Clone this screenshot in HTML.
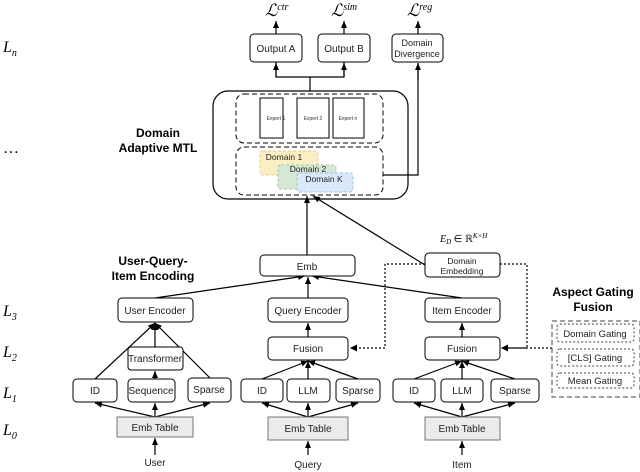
<!DOCTYPE html>
<html><head><meta charset="utf-8"><style>body{margin:0;background:#fff}svg{display:block}</style></head><body>
<svg width="640" height="472" viewBox="0 0 640 472" xmlns="http://www.w3.org/2000/svg" font-family="Liberation Sans, sans-serif">
<defs>
<marker id="a" markerWidth="8" markerHeight="8" refX="7" refY="4" orient="auto" markerUnits="userSpaceOnUse"><path d="M0,1 L7,4 L0,7 Z" fill="#000"/></marker>
</defs>
<g font-family="Liberation Serif, serif" font-style="italic" font-size="16">
<text x="3" y="52">L<tspan font-size="10" dy="4">n</tspan></text>
<text x="3" y="153" font-style="normal">…</text>
<text x="3" y="316">L<tspan font-size="10" dy="4">3</tspan></text>
<text x="3" y="357">L<tspan font-size="10" dy="4">2</tspan></text>
<text x="3" y="398">L<tspan font-size="10" dy="4">1</tspan></text>
<text x="3" y="435">L<tspan font-size="10" dy="4">0</tspan></text>
<text x="265" y="16" font-size="17">ℒ<tspan font-size="10" dy="-6">ctr</tspan></text>
<text x="331" y="16" font-size="17">ℒ<tspan font-size="10" dy="-6">sim</tspan></text>
<text x="407" y="16" font-size="17">ℒ<tspan font-size="10" dy="-6">reg</tspan></text>
<text x="440" y="242" font-size="10">E<tspan font-size="7" dy="2">D</tspan><tspan dy="-2" font-style="normal"> ∈ ℝ</tspan><tspan font-size="7" dy="-4">K×H</tspan></text>
</g>
<g font-weight="bold" font-size="12" text-anchor="middle">
<text x="158" y="137">Domain</text><text x="158" y="152">Adaptive MTL</text>
<text x="153" y="265">User-Query-</text><text x="153" y="280">Item Encoding</text>
<text x="593" y="296">Aspect Gating</text><text x="593" y="311">Fusion</text>
</g>
<g stroke="#000" fill="none" stroke-width="1.2">
<!-- top -->
<line x1="276" y1="34" x2="276" y2="21" marker-end="url(#a)"/>
<line x1="344" y1="34" x2="344" y2="21" marker-end="url(#a)"/>
<line x1="418" y1="34" x2="418" y2="21" marker-end="url(#a)"/>
<line x1="310" y1="91" x2="310" y2="77"/>
<polyline points="276,62 276,77 344,77 344,62"/>
<line x1="276" y1="77" x2="276" y2="63" marker-end="url(#a)"/>
<line x1="344" y1="77" x2="344" y2="63" marker-end="url(#a)"/>
<polyline points="383,175 418,175 418,63" />
<line x1="418" y1="80" x2="418" y2="63" marker-end="url(#a)"/>
<line x1="307" y1="255" x2="307" y2="196" marker-end="url(#a)"/>
<line x1="425" y1="265" x2="313" y2="196" marker-end="url(#a)"/>
<line x1="155" y1="298" x2="305" y2="276" marker-end="url(#a)"/>
<line x1="462" y1="298" x2="312" y2="276" marker-end="url(#a)"/>
<line x1="308" y1="298" x2="308" y2="277" marker-end="url(#a)"/>
<!-- user -->
<line x1="155" y1="347" x2="155" y2="323" marker-end="url(#a)"/>
<line x1="95" y1="379" x2="155" y2="323" marker-end="url(#a)"/>
<line x1="210" y1="378" x2="155" y2="323" marker-end="url(#a)"/>
<line x1="155" y1="379" x2="155" y2="371" marker-end="url(#a)"/>
<line x1="155" y1="417" x2="95" y2="403" marker-end="url(#a)"/>
<line x1="155" y1="417" x2="155" y2="403" marker-end="url(#a)"/>
<line x1="155" y1="417" x2="210" y2="403" marker-end="url(#a)"/>
<line x1="155" y1="455" x2="155" y2="438" marker-end="url(#a)"/>
<!-- query -->
<line x1="308" y1="337" x2="308" y2="323" marker-end="url(#a)"/>
<line x1="262" y1="379" x2="308" y2="361" marker-end="url(#a)"/>
<line x1="308" y1="379" x2="308" y2="361" marker-end="url(#a)"/>
<line x1="358" y1="379" x2="308" y2="361" marker-end="url(#a)"/>
<line x1="308" y1="417" x2="262" y2="403" marker-end="url(#a)"/>
<line x1="308" y1="417" x2="308" y2="403" marker-end="url(#a)"/>
<line x1="308" y1="417" x2="358" y2="403" marker-end="url(#a)"/>
<line x1="308" y1="455" x2="308" y2="441" marker-end="url(#a)"/>
<!-- item -->
<line x1="462" y1="337" x2="462" y2="323" marker-end="url(#a)"/>
<line x1="414" y1="379" x2="462" y2="361" marker-end="url(#a)"/>
<line x1="462" y1="379" x2="462" y2="361" marker-end="url(#a)"/>
<line x1="515" y1="379" x2="462" y2="361" marker-end="url(#a)"/>
<line x1="462" y1="417" x2="414" y2="403" marker-end="url(#a)"/>
<line x1="462" y1="417" x2="462" y2="403" marker-end="url(#a)"/>
<line x1="462" y1="417" x2="515" y2="403" marker-end="url(#a)"/>
<line x1="462" y1="455" x2="462" y2="441" marker-end="url(#a)"/>
</g>
<g stroke="#000" fill="none" stroke-width="1.2" stroke-dasharray="2,2">
<polyline points="425,264 385,264 385,348 350,348"/>
<polyline points="500,264 527,264 527,348 502,348"/>
<line x1="552" y1="348" x2="502" y2="348"/>
</g>
<path d="M350,348 l7,-3.5 v7z M501,348 l7,-3.5 v7z" fill="#000"/>
<!-- big box -->
<rect x="213" y="91" width="195" height="108" rx="15" fill="none" stroke="#000" stroke-width="1.2"/>
<rect x="236" y="94" width="147" height="49" rx="8" fill="none" stroke="#000" stroke-dasharray="5,3"/>
<rect x="236" y="147" width="147" height="48" rx="8" fill="none" stroke="#000" stroke-dasharray="5,3"/>
<g fill="#fff" stroke="#000"><rect x="260" y="98" width="23" height="40"/><rect x="297" y="98" width="32" height="40"/><rect x="333" y="98" width="31" height="40"/></g>
<g font-size="5" text-anchor="middle" fill="#333"><text x="276" y="120">Expert 1</text><text x="313" y="120">Expert 2</text><text x="348" y="120">Expert n</text></g>
<rect x="260" y="151" width="58" height="24" rx="3" fill="#fbeec4" stroke="#e0cf8f" stroke-dasharray="3,2"/>
<rect x="278" y="165" width="58" height="24" rx="3" fill="#d5e8d4" stroke="#aac6a8" stroke-dasharray="3,2"/>
<rect x="297" y="173" width="56" height="19" rx="3" fill="#dae8fc" stroke="#a9c0e0" stroke-dasharray="3,2"/>
<g font-size="8.5" text-anchor="middle" fill="#222"><text x="284" y="160">Domain 1</text><text x="308" y="172">Domain 2</text><text x="324" y="182">Domain K</text></g>
<!-- boxes -->
<g fill="#fff" stroke="#000" stroke-width="1">
<rect x="250" y="34" width="52" height="28" rx="4"/>
<rect x="318" y="34" width="52" height="28" rx="4"/>
<rect x="392" y="34" width="51" height="28" rx="4"/>
<rect x="260" y="255" width="95" height="21" rx="4"/>
<rect x="425" y="253" width="75" height="24" rx="4"/>
<rect x="118" y="298" width="75" height="24" rx="4"/>
<rect x="268" y="298" width="80" height="24" rx="4"/>
<rect x="425" y="298" width="75" height="24" rx="4"/>
<rect x="128" y="347" width="55" height="23" rx="3"/>
<rect x="268" y="337" width="80" height="23" rx="4"/>
<rect x="425" y="337" width="75" height="23" rx="4"/>
<rect x="73" y="379" width="44" height="23" rx="4"/>
<rect x="128" y="379" width="47" height="23" rx="4"/>
<rect x="188" y="378" width="43" height="24" rx="4"/>
<rect x="241" y="379" width="42" height="23" rx="4"/>
<rect x="287" y="379" width="43" height="23" rx="4"/>
<rect x="336" y="379" width="44" height="23" rx="4"/>
<rect x="393" y="379" width="42" height="23" rx="4"/>
<rect x="441" y="379" width="42" height="23" rx="4"/>
<rect x="491" y="379" width="48" height="23" rx="4"/>
</g>
<g fill="#ebebeb" stroke="#777"><rect x="117" y="417" width="76" height="20"/><rect x="268" y="417" width="80" height="23"/><rect x="425" y="417" width="75" height="23"/></g>
<rect x="552" y="321" width="88" height="76" fill="#fff" stroke="#444" stroke-dasharray="5,3"/>
<g fill="#fff" stroke="#444" stroke-dasharray="2,2"><rect x="557" y="324" width="77" height="18" rx="3"/><rect x="557" y="349" width="77" height="17" rx="3"/><rect x="557" y="373" width="77" height="15" rx="3"/></g>
<g font-size="10" text-anchor="middle" fill="#222">
<text x="276" y="52">Output A</text><text x="344" y="52">Output B</text>
<text x="417" y="46" font-size="9">Domain</text><text x="417" y="57" font-size="9">Divergence</text>
<text x="307" y="270">Emb</text>
<text x="462" y="264" font-size="8.5">Domain</text><text x="462" y="274" font-size="8.5">Embedding</text>
<text x="155" y="314">User Encoder</text><text x="308" y="314">Query Encoder</text><text x="462" y="314">Item Encoder</text>
<text x="155" y="362">Transformer</text><text x="308" y="352">Fusion</text><text x="462" y="352">Fusion</text>
<text x="95" y="394">ID</text><text x="151" y="394">Sequence</text><text x="209" y="393">Sparse</text>
<text x="262" y="394">ID</text><text x="308" y="394">LLM</text><text x="358" y="394">Sparse</text>
<text x="414" y="394">ID</text><text x="462" y="394">LLM</text><text x="515" y="394">Sparse</text>
<text x="155" y="431">Emb Table</text><text x="308" y="432">Emb Table</text><text x="462" y="432">Emb Table</text>
<text x="155" y="466">User</text><text x="308" y="468">Query</text><text x="462" y="468">Item</text>
<text x="595" y="337" font-size="9.5">Domain Gating</text><text x="595" y="361" font-size="9.5">[CLS] Gating</text><text x="595" y="384" font-size="9.5">Mean Gating</text>
</g>
</svg>
</body></html>
